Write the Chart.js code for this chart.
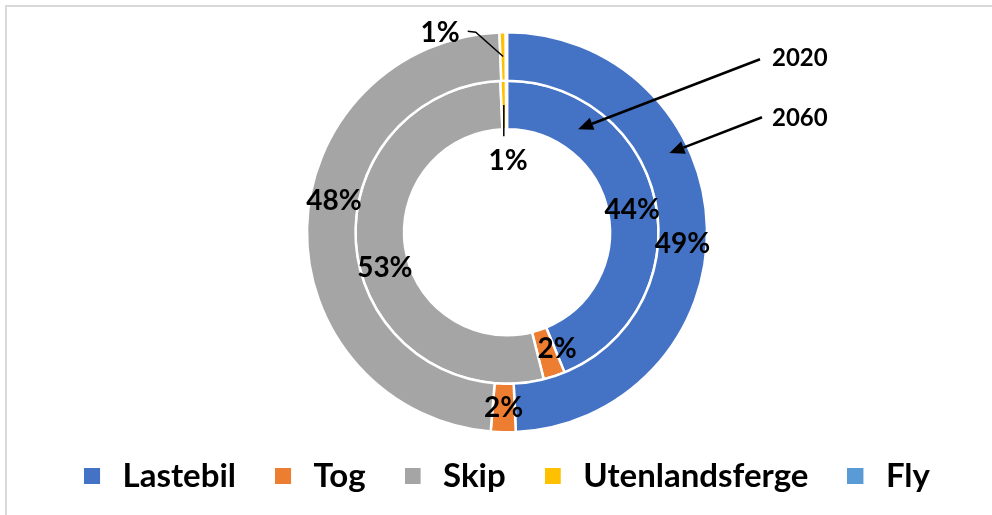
<!DOCTYPE html>
<html><head><meta charset="utf-8">
<script src="https://cdn.jsdelivr.net/npm/chart.js@4/dist/chart.umd.min.js"></script>
<style>
html,body{margin:0;padding:0;background:#fff;}
#wrap{position:relative;width:992px;height:515px;overflow:hidden;background:#fff;}
#frame{position:absolute;left:5px;top:5px;right:-10px;bottom:-10px;border-top:2px solid #d9d9d9;border-left:2px solid #d9d9d9;}
canvas{position:absolute;left:0;top:0;}
</style></head><body>
<div id="wrap"><div id="frame"></div><canvas id="c" width="992" height="515"></canvas></div>
<script>
// ---- data ----
const categories = ['Lastebil', 'Tog', 'Skip', 'Utenlandsferge', 'Fly'];
const years = ['2060', '2020'];            // outer ring first, inner ring second
const share2060 = [49.3, 2.0, 48.1, 0.5, 0.1];
const share2020 = [43.8, 2.3, 53.2, 0.6, 0.1];
const colors = ['#4472C4', '#ED7D31', '#A5A5A5', '#FFC000', '#5B9BD5'];

// ---- styling ----
const FONT = 'Lato, "Open Sans", sans-serif';
const LEGEND_PAD = 39;
// small angular nudges (degrees) of the value labels, per ring, to mimic the original label placement
const labelNudges = [[5, 0, 9, 0, 0], [1, -5, -8, 0, 0]];

function legendSquare(color) {
  const c = document.createElement('canvas');
  c.width = 22; c.height = 16;
  const x = c.getContext('2d');
  x.fillStyle = color;
  x.fillRect(0, 0, 16, 16);
  return c;
}

const labelPlugin = {
  id: 'sliceLabels',
  afterDatasetsDraw(chart) {
    const ctx = chart.ctx;
    ctx.save();
    ctx.fillStyle = '#000';
    ctx.strokeStyle = '#000';
    ctx.textAlign = 'center';
    ctx.textBaseline = 'middle';
    chart.data.datasets.forEach((ds, di) => {
      const meta = chart.getDatasetMeta(di);
      meta.data.forEach((arc, i) => {
        const v = ds.data[i];
        const txt = Math.round(v) + '%';
        if (Math.round(v) < 1) return;
        const p = arc.getProps(['x', 'y', 'startAngle', 'endAngle', 'innerRadius', 'outerRadius'], true);
        const a = (p.startAngle + p.endAngle) / 2 + (labelNudges[di][i] || 0) * Math.PI / 180;
        const rm = (p.innerRadius + p.outerRadius) / 2;
        const px = p.x + rm * Math.cos(a), py = p.y + rm * Math.sin(a);
        ctx.font = 'bold 28px ' + FONT;
        if (v < 1.5) {
          ctx.lineWidth = 1.5;
          if (di === 0) {
            const ly = p.y - p.outerRadius + 1;
            const lx = px - 63;
            const w = ctx.measureText(txt).width;
            ctx.fillText(txt, lx, ly);
            ctx.beginPath();
            ctx.moveTo(lx + w / 2 + 8, ly - 2);
            ctx.lineTo(lx + w / 2 + 16, ly - 1);
            ctx.lineTo(px, py);
            ctx.stroke();
          } else {
            ctx.beginPath();
            ctx.moveTo(px, py);
            ctx.lineTo(px, p.y - p.innerRadius + 7);
            ctx.stroke();
            ctx.fillText(txt, p.x + 1, p.y - p.innerRadius + 32);
          }
        } else {
          ctx.fillText(txt, px, py);
        }
      });
    });
    ctx.restore();
  }
};

const arrowPlugin = {
  id: 'yearArrows',
  afterDraw(chart) {
    const ctx = chart.ctx;
    const m0 = chart.getDatasetMeta(0).data[0];
    const m1 = chart.getDatasetMeta(1).data[0];
    const cx = m0.x, cy = m0.y;
    const specs = [
      { text: years[1], arc: m1, deg: 34.6, dr: -2, tx: 253, ty: -173, lx: 265, ly: -174 },
      { text: years[0], arc: m0, deg: 64, dr: 5, tx: 255, ty: -115, lx: 265, ly: -114 }
    ];
    ctx.save();
    ctx.strokeStyle = '#000';
    ctx.fillStyle = '#000';
    ctx.lineWidth = 2.5;
    specs.forEach(s => {
      const r = (s.arc.innerRadius + s.arc.outerRadius) / 2 + s.dr;
      const ang = s.deg * Math.PI / 180;
      const hx = cx + r * Math.sin(ang), hy = cy - r * Math.cos(ang);
      const tx = cx + s.tx, ty = cy + s.ty;
      const dir = Math.atan2(hy - ty, hx - tx);
      const L = 15, W = 6.5;
      const bx = hx - L * Math.cos(dir), by = hy - L * Math.sin(dir);
      ctx.beginPath();
      ctx.moveTo(tx, ty);
      ctx.lineTo(bx, by);
      ctx.stroke();
      ctx.beginPath();
      ctx.moveTo(hx, hy);
      ctx.lineTo(bx + W * Math.sin(dir), by - W * Math.cos(dir));
      ctx.lineTo(bx - W * Math.sin(dir), by + W * Math.cos(dir));
      ctx.closePath();
      ctx.fill();
      ctx.font = 'bold 24px ' + FONT;
      ctx.textAlign = 'left';
      ctx.textBaseline = 'middle';
      ctx.fillText(s.text, cx + s.lx, cy + s.ly);
    });
    ctx.restore();
  }
};

new Chart(document.getElementById('c'), {
  type: 'doughnut',
  data: {
    labels: categories,
    datasets: [
      { label: years[0], data: share2060, backgroundColor: colors, borderColor: '#fff', borderWidth: 2.5 },
      { label: years[1], data: share2020, backgroundColor: colors, borderColor: '#fff', borderWidth: 2.5 }
    ]
  },
  options: {
    responsive: false,
    animation: false,
    radius: 200,
    cutout: '51.5%',
    layout: { padding: { left: 22, right: 0, top: 44, bottom: 12.5 } },
    plugins: {
      tooltip: { enabled: false },
      legend: {
        position: 'bottom',
        labels: {
          usePointStyle: true,
          pointStyleWidth: 22,
          padding: LEGEND_PAD,
          color: '#000',
          font: { family: FONT, size: 33, weight: 'bold' },
          generateLabels(chart) {
            return chart.data.labels.map((l, i) => ({
              text: l, fillStyle: colors[i], strokeStyle: colors[i], lineWidth: 0,
              pointStyle: legendSquare(colors[i]), hidden: false, index: i, fontColor: '#000'
            }));
          }
        }
      }
    }
  },
  plugins: [labelPlugin, arrowPlugin]
});
</script></body></html>
